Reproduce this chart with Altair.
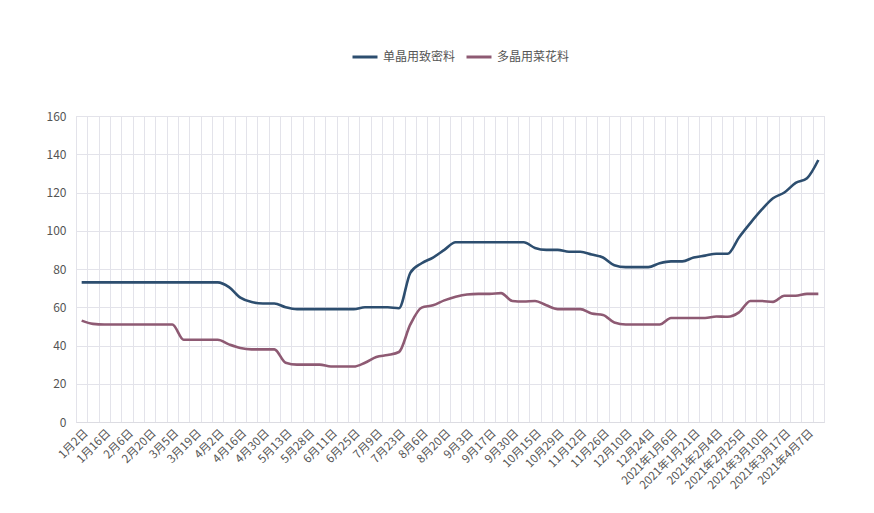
import json
import altair as alt
import pandas as pd

dates = [
    "1月2日", "1月9日", "1月16日", "1月23日", "2月6日", "2月13日", "2月20日", "2月27日",
    "3月5日", "3月12日", "3月19日", "3月26日", "4月2日", "4月9日", "4月16日", "4月23日",
    "4月30日", "5月7日", "5月13日", "5月20日", "5月28日", "6月3日", "6月11日", "6月17日",
    "6月25日", "7月1日", "7月9日", "7月15日", "7月23日", "7月29日", "8月6日", "8月12日",
    "8月20日", "8月26日", "9月3日", "9月9日", "9月17日", "9月23日", "9月30日", "10月9日",
    "10月15日", "10月22日", "10月29日", "11月4日", "11月12日", "11月18日", "11月26日", "12月2日",
    "12月10日", "12月16日", "12月24日", "12月30日", "2021年1月6日", "2021年1月13日",
    "2021年1月21日", "2021年1月27日", "2021年2月4日", "2021年2月18日", "2021年2月25日",
    "2021年3月3日", "2021年3月10日", "2021年3月13日", "2021年3月17日", "2021年3月31日",
    "2021年4月7日", "2021年4月14日",
]

mono_dense = [
    73, 73, 73, 73, 73, 73, 73, 73, 73, 73, 73, 73, 73, 70.5, 65, 62.7,
    62, 62, 60, 59, 59, 59, 59, 59, 59, 60, 60, 60, 59.5, 78, 83, 86,
    90, 94, 94, 94, 94, 94, 94, 94, 91, 90, 90, 89, 89, 87.6, 86, 82,
    81, 81, 81, 83, 84, 84, 86, 87, 88, 88, 96.5, 104, 111, 117,
    120, 125, 127.5, 137,
]

poly_cauliflower = [
    53, 51.3, 51, 51, 51, 51, 51, 51, 51, 43, 43, 43, 43, 40.6, 38.7, 38,
    38, 38, 31, 30, 30, 30, 29, 29, 29, 31, 34, 35, 36.6, 51, 59.8, 61,
    63.6, 65.5, 66.7, 67, 67, 67.4, 63.3, 63, 63.3, 61, 59, 59, 59, 56.7,
    56, 52, 51, 51, 51, 51, 54.4, 54.4, 54.4, 54.4, 55.2, 55, 57.3, 63.3,
    63.3, 62.8, 66, 66, 67, 67,
]

series_names = ["单晶用致密料", "多晶用菜花料"]
series_colors = ["#2d4e6f", "#8e5a73"]
y_ticks = [0, 20, 40, 60, 80, 100, 120, 140, 160]

rows = []
for i, d in enumerate(dates):
    rows.append({"idx": i, "date": d, "series": series_names[0], "value": mono_dense[i]})
    rows.append({"idx": i, "date": d, "series": series_names[1], "value": poly_cauliflower[i]})
df = pd.DataFrame(rows)

n = len(dates)
grid_vals = [i - 0.5 for i in range(n + 1)]
label_vals = [i for i in range(0, n, 2)]
axis_vals = sorted(set(grid_vals + label_vals))
labels_js = json.dumps(dates, ensure_ascii=False)

FONT = "Noto Sans CJK SC"

chart = (
    alt.Chart(df)
    .mark_line(interpolate="monotone", strokeWidth=2.6)
    .encode(
        x=alt.X(
            "idx:Q",
            scale=alt.Scale(domain=[-0.5, n - 0.5], nice=False, zero=False),
            axis=alt.Axis(
                title=None,
                values=axis_vals,
                labelExpr=f"(datum.value % 2 == 0) ? {labels_js}[datum.value] : ''",
                labelAngle=-45,
                labelOverlap=False,
                labelFontSize=11.5,
                labelColor="#555555",
                labelFont=FONT,
                labelPadding=5,
                ticks=False,
                grid=True,
                gridColor="#e3e3ea",
                gridWidth=1,
                gridOpacity=alt.ConditionalAxisNumber(
                    condition={"test": "datum.value % 1 == 0", "value": 0},
                    value=1,
                ),
                domainColor="#dcdce2",
            ),
        ),
        y=alt.Y(
            "value:Q",
            scale=alt.Scale(domain=[0, 160], nice=False),
            axis=alt.Axis(
                title=None,
                values=y_ticks,
                labelFontSize=12,
                labelColor="#555555",
                labelFont=FONT,
                labelPadding=10,
                ticks=False,
                domain=False,
                gridColor="#e3e3ea",
            ),
        ),
        color=alt.Color(
            "series:N",
            scale=alt.Scale(domain=series_names, range=series_colors),
            legend=alt.Legend(
                title=None,
                orient="none",
                direction="horizontal",
                legendX=275,
                legendY=-73,
                symbolType="stroke",
                symbolStrokeWidth=3,
                symbolSize=625,
                labelFontSize=12,
                labelColor="#555555",
                labelFont=FONT,
                labelOffset=4,
                columnPadding=4,
            ),
        ),
        order="idx:Q",
    )
    .properties(
        width=748,
        height=306,
        autosize=alt.AutoSizeParams(type="none"),
        padding={"left": 68, "top": 108, "right": 40, "bottom": 80},
    )
    .configure_view(stroke=None)
    .configure(background="white")
)

chart.save("out.html", embed_options={"renderer": "svg", "actions": False})
